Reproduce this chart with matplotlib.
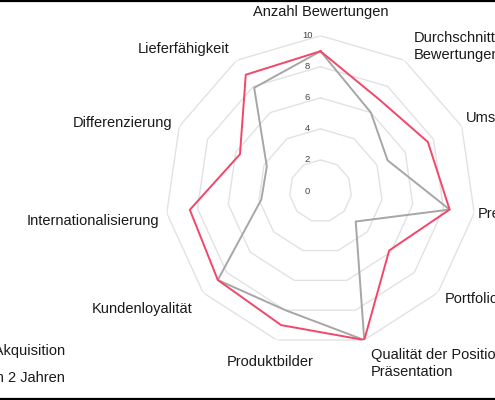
import numpy as np
import matplotlib
matplotlib.use("Agg")
import matplotlib.pyplot as plt
from matplotlib.lines import Line2D

plt.rcParams["font.family"] = ["Liberation Sans", "DejaVu Sans"]

# =============================================================================
# Data
# =============================================================================
categories = [
    "Anzahl Bewertungen",
    "Durchschnittliche\nBewertungen",
    "Umsatz",
    "Preis",
    "Portfolio",
    "Qualität der Positionierung &\nPräsentation",
    "Produktbilder",
    "Kundenloyalität",
    "Internationalisierung",
    "Differenzierung",
    "Lieferfähigkeit",
]
series_names = ["Vor der Akquisition", "Innerhalb von 2 Jahren"]
vals_before = [9, 6, 4.75, 8.4, 3, 10, 8, 8.75, 3.85, 3.8, 7.9]
vals_after = [9, 7, 7.6, 8.4, 5.85, 10, 9, 8.75, 8.5, 5.7, 8.9]
ring_levels = [2, 4, 6, 8, 10]
tick_levels = [0, 2, 4, 6, 8, 10]

# =============================================================================
# Layout / style
# =============================================================================
W, H = 495, 400
cx, cy = 320.5, 191.0          # centre of the radar in pixels (from top-left)
R10 = 155.3                     # radius of the "10" ring in pixels
px_per_unit = R10 / 10

# label placement: distance from centre (px) and alignment per axis
lab_r_px = [179, 172, 160, 159, 165, 180, 178, 169, 163, 163, 169]
lab_ha = ["center", "left", "left", "left", "left", "left",
          "center", "right", "right", "right", "right"]
lab_va = ["center", "center", "bottom", "center", "center", "center",
          "center", "top", "top", "center", "center"]

# legend entries: right end (px) and row centre (px); the rest is cut off
leg_x_px = [65, 64.5]
leg_y_px = [351, 377.5]

c_before = "#a6a6a6"
c_after = "#f2466a"
c_grid = "#e2e2e2"

fig = plt.figure(figsize=(W / 100, H / 100), dpi=100)
fig.patch.set_facecolor("white")

ax = fig.add_axes([(cx - R10) / W, (H - cy - R10) / H, 2 * R10 / W, 2 * R10 / H],
                  projection="polar")
ax.set_theta_offset(np.pi / 2)
ax.set_theta_direction(-1)
ax.set_ylim(0, 10)
ax.set_xticks([])
ax.set_yticks([])
ax.grid(False)
ax.spines["polar"].set_visible(False)
ax.patch.set_alpha(0)

n = len(categories)
theta = np.arange(n) * 2 * np.pi / n
theta_c = np.append(theta, theta[0])

# polygon grid
for lvl in ring_levels:
    ax.plot(theta_c, [lvl] * (n + 1), color=c_grid, lw=1.0, zorder=1)

# series
ax.plot(theta_c, vals_before + vals_before[:1], color=c_before, lw=1.4,
        label=series_names[0], zorder=3)
ax.plot(theta_c, vals_after + vals_after[:1], color=c_after, lw=1.4,
        label=series_names[1], zorder=4)

# radial tick labels (left of the top spoke)
for lvl in tick_levels:
    ax.annotate(str(lvl), xy=(0, lvl), xytext=(-9.4, 0), textcoords="offset points",
                ha="center", va="center", fontsize=6.8, color="#444444", zorder=5)

# axis labels
for t, lab, r, ha, va in zip(theta, categories, lab_r_px, lab_ha, lab_va):
    ax.text(t, r / px_per_unit, lab, ha=ha, va=va, fontsize=10.5,
            color="#1a1a1a", linespacing=1.3, multialignment="left")

# legend texts (only their right part is inside the picture)
for name, lx, ly in zip(series_names, leg_x_px, leg_y_px):
    fig.text(lx / W, 1 - ly / H, name, ha="right", va="center",
             fontsize=10.5, color="#1a1a1a")

# black frame lines at top and bottom
fig.add_artist(Line2D([0, 1], [1 - 1.2 / H, 1 - 1.2 / H], transform=fig.transFigure,
                      color="black", lw=1.6))
fig.add_artist(Line2D([0, 1], [1.3 / H, 1.3 / H], transform=fig.transFigure,
                      color="black", lw=1.6))

fig.savefig("out.png", dpi=100)
